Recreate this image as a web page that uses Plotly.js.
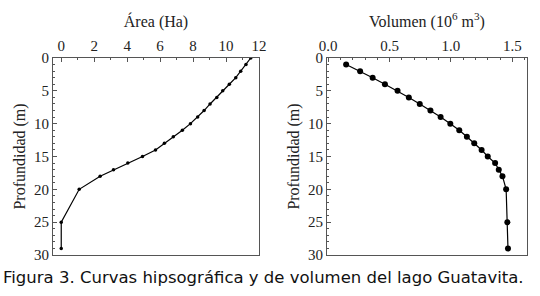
<!DOCTYPE html>
<html>
<head>
<meta charset="utf-8">
<script src="https://cdn.plot.ly/plotly-3.0.1.min.js"></script>
<style>html,body{margin:0;padding:0;background:#fff;}#chart{width:540px;height:296px;}</style>
</head>
<body>
<div id="chart"></div>
<script>
// Hypsographic curve: area (Ha) vs depth (m)
const areaDepth = [0, 1, 2, 3, 4, 5, 6, 7, 8, 9, 10, 11, 12, 13, 14, 15, 16, 17, 18, 20, 25, 29];
const areaHa    = [11.5, 11.21, 10.89, 10.59, 10.2, 9.8, 9.44, 9.03, 8.67, 8.28, 7.84, 7.35, 6.8, 6.26, 5.72, 4.93, 4.04, 3.17, 2.36, 1.09, 0, 0];
// Volume curve: volume (10^6 m3) vs depth (m)
const volDepth  = [1, 2, 3, 4, 5, 6, 7, 8, 9, 10, 11, 12, 13, 14, 15, 16, 17, 18, 20, 25, 29];
const volume    = [0.146, 0.26, 0.362, 0.462, 0.565, 0.657, 0.746, 0.833, 0.916, 0.995, 1.068, 1.13, 1.19, 1.25, 1.30, 1.36, 1.39, 1.42, 1.45, 1.46, 1.465];
const areaTicks = [0, 2, 4, 6, 8, 10, 12];
const volTicks  = [0, 0.5, 1.0, 1.5];
const depthTicks = [0, 5, 10, 15, 20, 25, 30];
const caption = 'Figura 3. Curvas hipsográfica y de volumen del lago Guatavita.';

const serif = 'Liberation Serif, Times New Roman, serif';
const frameColor = '#555';

const traces = [
  {x: areaHa, y: areaDepth, xaxis: 'x', yaxis: 'y', type: 'scatter', mode: 'lines+markers',
   line: {color: '#000', width: 1.2}, marker: {color: '#000', size: 3.5}},
  {x: volume, y: volDepth, xaxis: 'x2', yaxis: 'y2', type: 'scatter', mode: 'lines+markers',
   line: {color: '#000', width: 1.2}, marker: {color: '#000', size: 6}}
];

function xax(domain, range, tickvals, fmt, minorD, titleText, anchor) {
  return {
    domain: domain, range: range, side: 'top', anchor: anchor,
    tickvals: tickvals, tickformat: fmt, ticks: 'inside', ticklen: 4, tickcolor: frameColor,
    minor: {dtick: minorD, ticks: 'inside', ticklen: 2, tickcolor: frameColor},
    showline: true, linecolor: frameColor, linewidth: 1, mirror: true,
    showgrid: false, zeroline: false,
    tickfont: {family: serif, size: 15, color: '#222'},
    title: {text: titleText, font: {family: serif, size: 16, color: '#222'}, standoff: 6},
    fixedrange: true
  };
}
function yax(domain, anchor) {
  return {
    domain: domain, range: [30, 0], anchor: anchor,
    tickvals: depthTicks, ticks: 'inside', ticklen: 4, tickcolor: frameColor,
    minor: {dtick: 1, ticks: 'inside', ticklen: 2, tickcolor: frameColor},
    showline: true, linecolor: frameColor, linewidth: 1, mirror: true,
    showgrid: false, zeroline: false,
    tickfont: {family: serif, size: 15, color: '#222'},
    title: {text: 'Profundidad (m)', font: {family: serif, size: 16, color: '#222'}, standoff: 4},
    fixedrange: true
  };
}

const yDom = [1 - 255/296, 1 - 58/296];
const layout = {
  width: 540, height: 296,
  margin: {l: 0, r: 0, t: 0, b: 0},
  paper_bgcolor: '#fff', plot_bgcolor: '#fff',
  showlegend: false,
  xaxis: xax([53/540, 259/540], [-0.5, 12], areaTicks, 'd', 1, 'Área (Ha)', 'y'),
  yaxis: yax(yDom, 'x'),
  xaxis2: xax([327/540, 527/540], [-0.01, 1.62], volTicks, '.1f', 0.1, 'Volumen (10<sup>6</sup> m<sup>3</sup>)', 'y2'),
  yaxis2: yax(yDom, 'x2'),
  annotations: [{
    text: caption, xref: 'paper', yref: 'paper', x: 263.5/540, y: 1 - 277/296,
    xanchor: 'center', yanchor: 'middle', showarrow: false,
    font: {family: 'DejaVu Sans, Verdana, sans-serif', size: 16.5, color: '#111'}
  }]
};

Plotly.newPlot('chart', traces, layout, {displayModeBar: false, staticPlot: true});
</script>
</body>
</html>
